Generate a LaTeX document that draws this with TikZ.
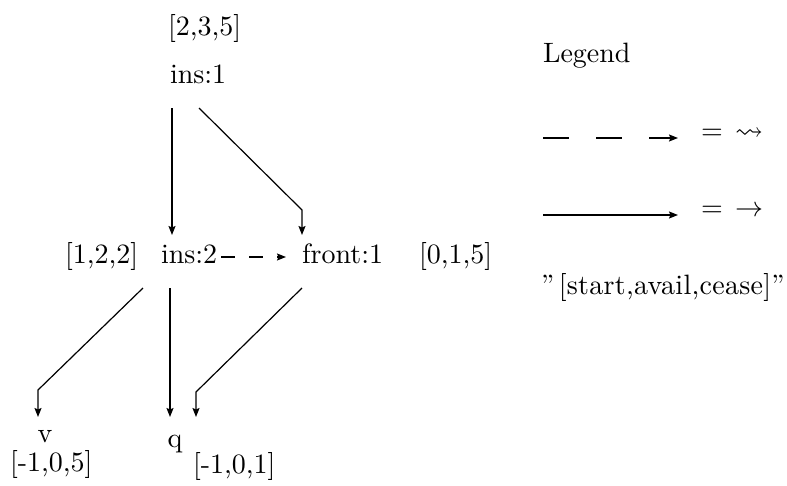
\documentclass[tikz,border=0pt]{standalone}
\usepackage{amssymb}
% scalable math symbol fonts for the large legend glyphs
\DeclareFontFamily{U}{msa}{}
\DeclareFontShape{U}{msa}{m}{n}{<-> msam10}{}
\DeclareFontShape{OMS}{cmsy}{m}{n}{<-> cmsy10}{}
\usepackage{fontspec}
% the 10pt design size at every size
\setmainfont{lmroman10-regular.otf}
\usetikzlibrary{arrows.meta,calc}

\tikzset{
  lbl/.style={inner sep=0pt, outer sep=0pt, anchor=base west,
              font=\fontsize{28}{34}\selectfont},
  edge/.style={line width=1.2pt, -{Stealth[length=9pt,width=7pt,inset=1.5pt]}},
  dashedge/.style={edge, dash pattern=on 14pt off 14pt},
  legdash/.style={edge, dash pattern=on 26pt off 27pt},
}

\begin{document}
\begin{tikzpicture}[x=1pt,y=-1pt]
\useasboundingbox (0,0) rectangle (787,485);

% top node
\node[lbl] (t235)  at (168,35)  {[2,3,5]};
\node[lbl] (ins1)  at (170,83)  {ins:1};

% middle row
\node[lbl] (t122)  at (65,263)  {[1,2,2]};
\node[lbl] (ins2)  at (161,263) {ins:2};
\node[lbl] (front) at (302,263) {front:1};
\node[lbl] (t015)  at (419,263) {[0,1,5]};

% leaves
\node[lbl, anchor=base] (v) at (45,442) {v};
\node[lbl] (t105) at (10,471) {[-1,0,5]};
\node[lbl, anchor=base] (q) at (175,447) {q};
\node[lbl] (t101) at (193,473) {[-1,0,1]};

% edges from ins:1
\draw[edge] ($(ins1.base west)+(2,25)$) -- ($(ins2.base west)+(11,-28)$);
\draw[edge] ($(ins1.base west)+(29,25)$)
  -- ($(front.base west)+(0,-53)$) -- ($(front.base west)+(0,-28)$);

% dashed edge ins:2 -> front:1
\draw[dashedge] ($(ins2.base east)+(4,-6)$) -- ($(front.base west)+(-16,-6)$);

% edges to the leaves
\draw[edge] ($(ins2.base west)+(-18,25)$)
  -- ($(v.base)+(-7,-52)$) -- ($(v.base)+(-7,-25)$);
\draw[edge] ($(ins2.base west)+(9,25)$) -- ($(q.base)+(-5,-30)$);
\draw[edge] ($(front.base west)+(0,25)$)
  -- ($(q.base)+(21,-55)$) -- ($(q.base)+(21,-30)$);

% legend
\node[lbl] (legend) at (543,62) {Legend};
\coordinate (d0) at (543,138);
\coordinate (d1) at (678,138);
\draw[legdash] (d0) -- (d1);
\node[lbl] (eq1) at (701,139) {=};
\node[lbl] (sq)  at (735,139) {$\leadsto$};

\coordinate (s0) at (543,215);
\coordinate (s1) at (678,215);
\draw[edge] (s0) -- (s1);
\node[lbl] (eq2) at (701,216) {=};
\node[lbl] (ar)  at (735,216) {$\rightarrow$};

\node[lbl, font=\fontsize{28}{34}\selectfont\addfontfeature{LetterSpace=1}]
  (key) at (541,294) {”\,[start,avail,cease]”};
\end{tikzpicture}
\end{document}
